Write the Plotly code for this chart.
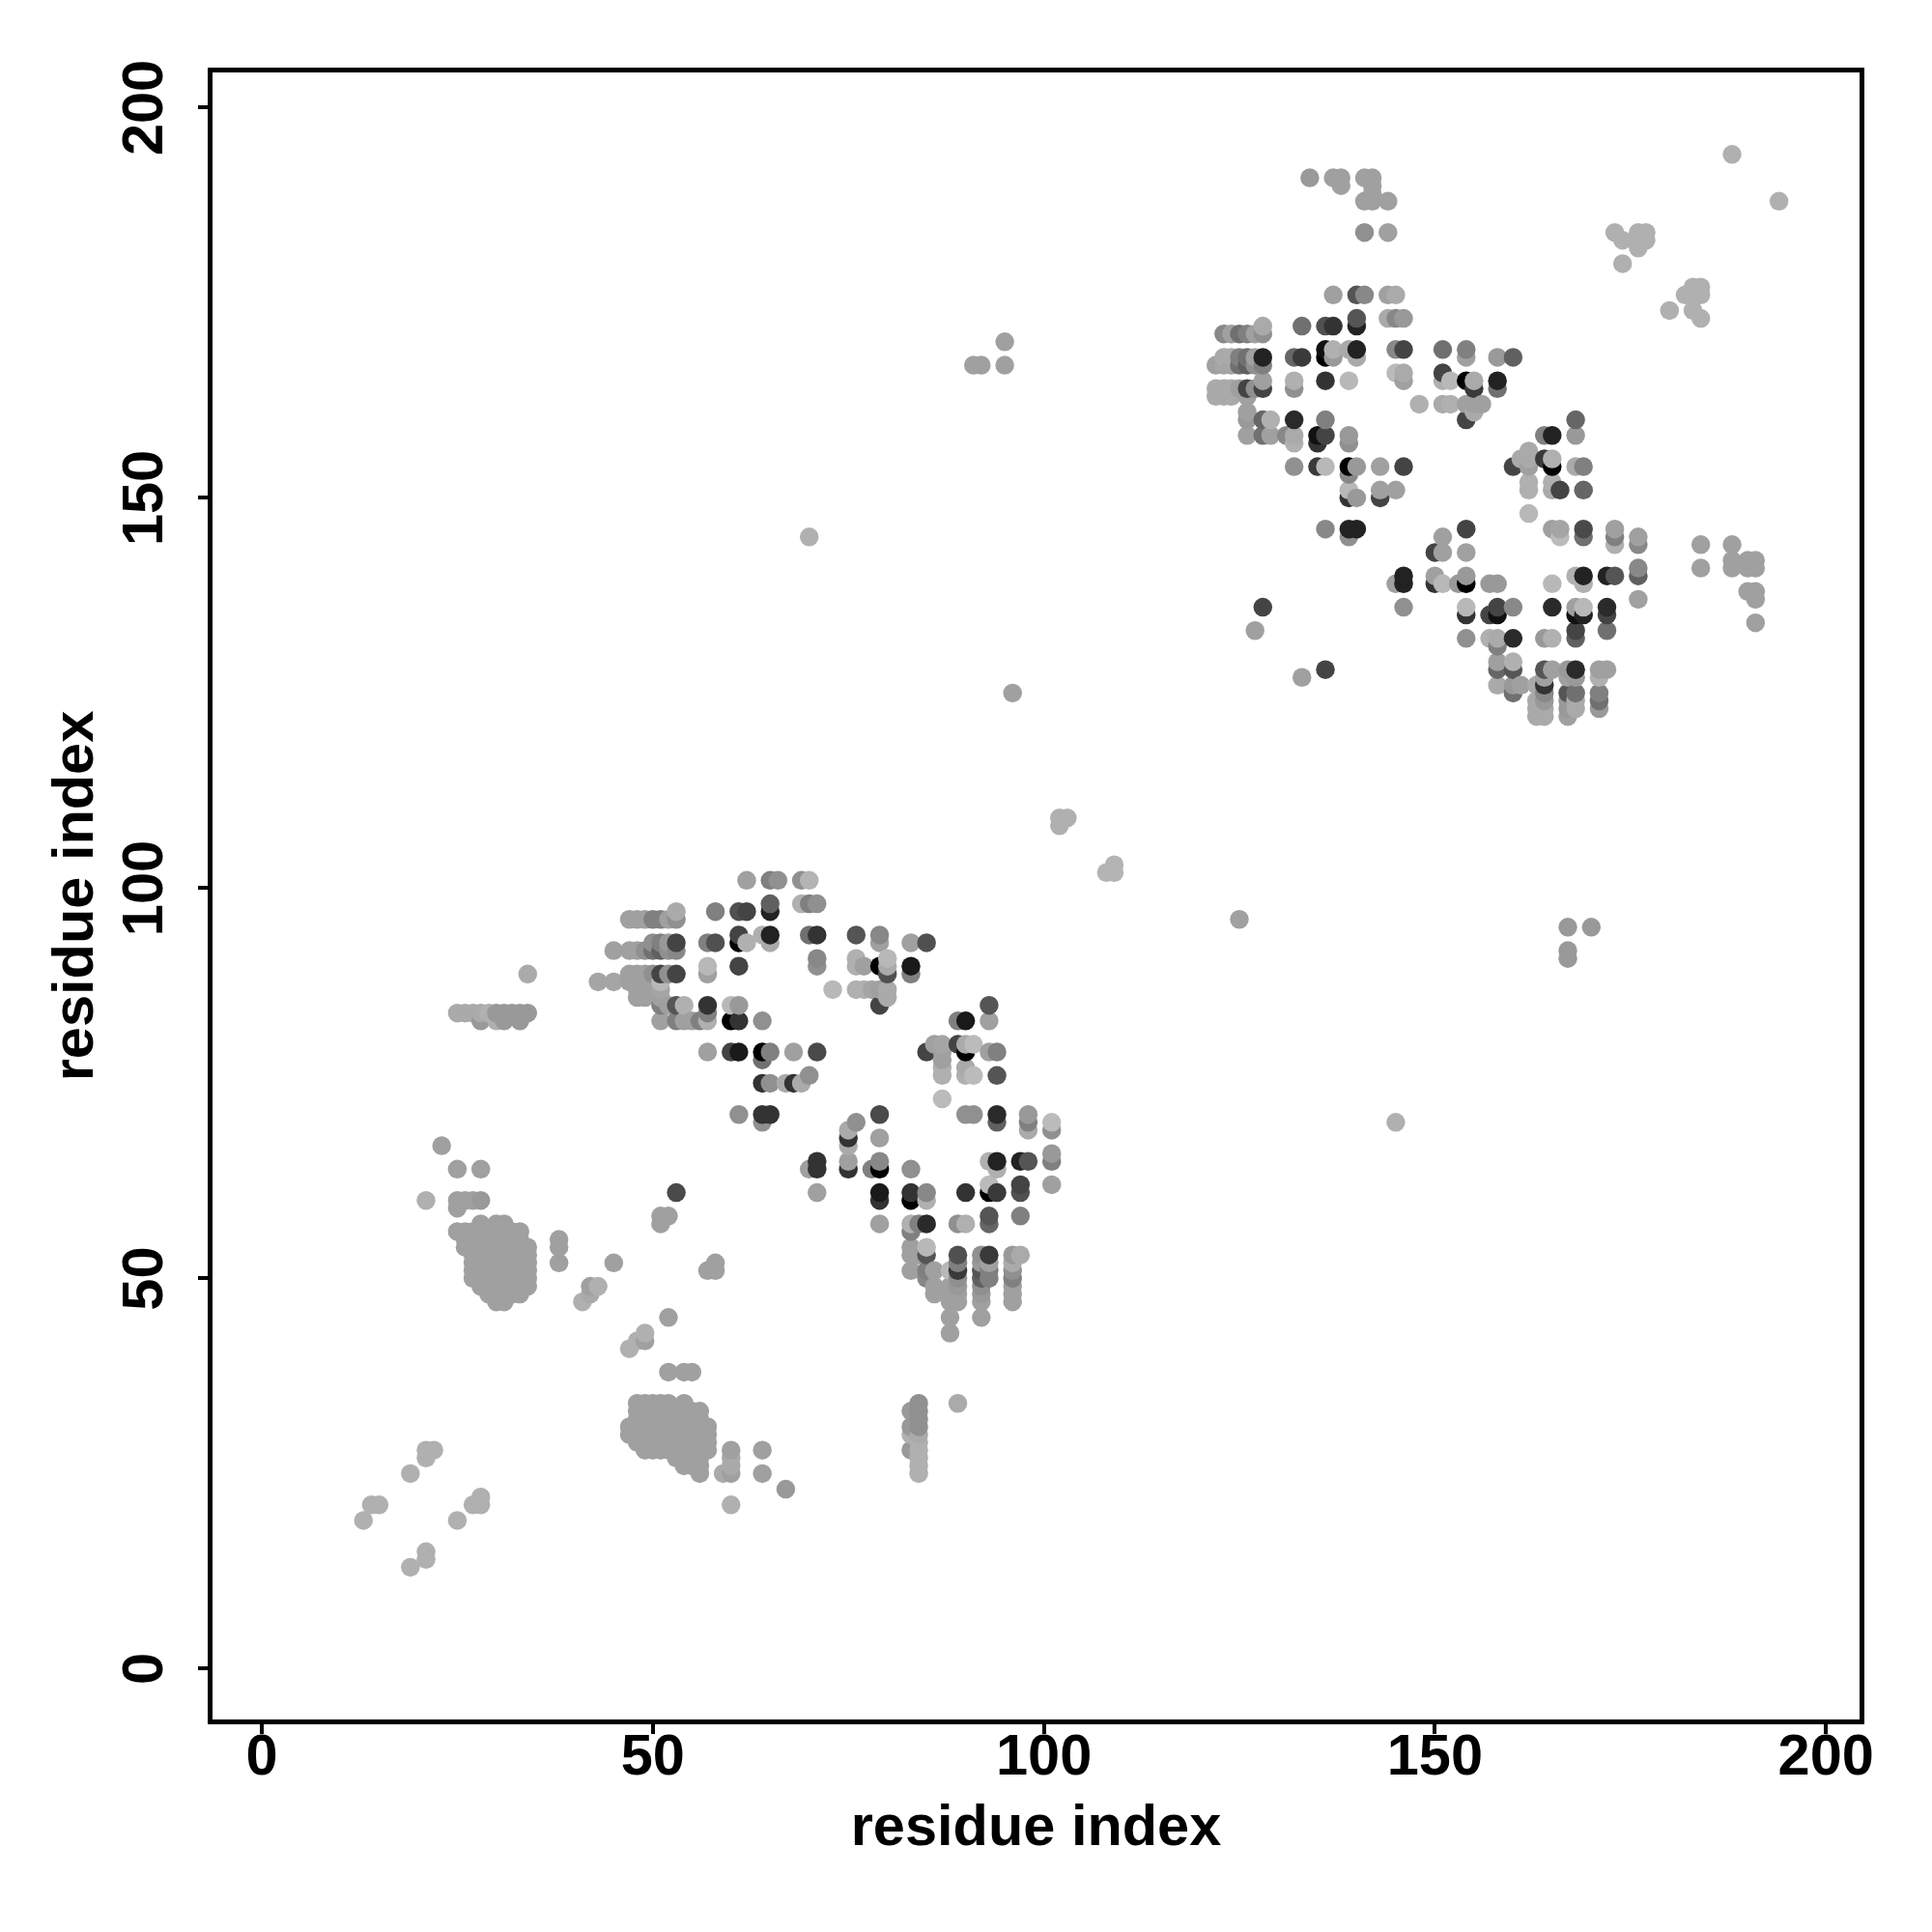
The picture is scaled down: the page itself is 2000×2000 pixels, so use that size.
import numpy as np
import plotly.graph_objects as go

row_y = [194, 191, 190, 189, 188, 184, 183, 182, 180, 177, 176, 174, 173, 172, 171, 170, 169, 168, 167, 166,
         165, 164, 163, 162, 161, 160, 158, 157, 156, 155, 154, 153, 152, 151, 150, 148, 146, 145, 144, 143,
         142, 141, 140, 139, 138, 137, 136, 135, 134, 133, 132, 131, 129, 128, 127, 126, 125, 124, 123, 122,
         109, 108, 103, 102, 101, 98, 97, 96, 95, 94, 93, 92, 91, 90, 89, 88, 87, 86, 85, 84, 83,
         80, 79, 78, 77, 76, 75, 73, 71, 70, 69, 68, 67, 66, 65, 64, 62, 61, 60, 59, 58, 57,
         56, 55, 54, 53, 52, 51, 50, 49, 48, 47, 45, 43, 42, 41, 38,
         34, 33, 32, 31, 30, 29, 28, 27, 26, 25, 23, 22, 21, 19, 15, 14, 13]

row_x = [
    [188],
    [134, 137, 138, 141, 142],
    [138, 142],
    [142],
    [141, 142, 144, 194],
    [141, 144, 173, 176, 177],
    [174, 176, 177],
    [176],
    [174],
    [183, 184],
    [137, 140, 141, 144, 145, 182, 183, 184],
    [180, 183],
    [140, 144, 145, 146, 184],
    [128, 133, 136, 137, 140],
    [123, 124, 125, 126, 127, 128],
    [95],
    [136, 137, 139, 140, 145, 146, 151, 154],
    [123, 124, 125, 126, 127, 128, 132, 133, 136, 137, 140, 154, 158, 160],
    [91, 92, 95, 122, 123, 124, 125, 126, 127, 128],
    [145, 146, 151],
    [128, 132, 136, 139, 146, 151, 152, 154, 155, 158],
    [122, 123, 124, 125, 126, 127, 128, 132, 155, 158],
    [122, 123, 124, 126],
    [148, 151, 152, 154, 155, 156],
    [126, 155],
    [126, 128, 129, 132, 136, 154, 168],
    [126, 128, 129, 131, 132, 135, 136, 139, 164, 165, 168],
    [132, 135, 139],
    [162],
    [161, 162, 164, 165],
    [132, 135, 136, 139, 140, 143, 146, 160, 162, 165, 168, 169],
    [139],
    [162, 165],
    [139, 143, 145, 162, 165, 166, 169],
    [139, 140, 143],
    [162],
    [136, 139, 140, 154, 165, 166, 169, 173],
    [70, 139, 151, 166, 169, 173, 176],
    [173, 176, 184, 188],
    [150, 151, 154],
    [188, 190, 191],
    [176, 184, 188, 190, 191],
    [146, 150, 154, 168, 169, 172, 173, 176],
    [145, 146, 150, 151, 153, 154, 157, 158, 165, 169],
    [190, 191],
    [176, 191],
    [128, 146, 154, 158, 160, 165, 168, 169, 172],
    [154, 157, 158, 168, 169, 172],
    [191],
    [127, 168, 172],
    [154, 157, 158, 160, 164, 165, 168],
    [158],
    [158, 160],
    [136, 158, 160, 164, 165, 167, 168, 171, 172],
    [133, 164, 167, 168, 171],
    [158, 160, 161, 163, 164],
    [96, 160, 164, 167, 168, 171],
    [163, 164, 167, 168, 171],
    [163, 164, 167, 168, 171],
    [163, 164, 167],
    [102, 103],
    [102],
    [109],
    [108, 109],
    [62, 65, 66, 69, 70],
    [65, 69, 70, 71],
    [53, 58, 61, 62, 65],
    [47, 48, 49, 50, 51, 52, 53, 125],
    [167, 170],
    [61, 64, 65, 70, 71, 76, 79],
    [50, 51, 52, 53, 57, 58, 61, 62, 65, 79, 83, 85],
    [45, 47, 48, 49, 50, 51, 52, 53, 167],
    [71, 76, 80, 167],
    [57, 61, 71, 76, 77, 79, 80, 83],
    [34, 47, 48, 49, 50, 51, 52, 53, 57, 80, 83],
    [43, 45, 47, 48, 49, 51],
    [48, 49, 51, 73, 76, 77, 78, 79, 80],
    [48, 49, 51, 80],
    [51, 52, 53, 54, 57, 60, 61, 79, 93],
    [25, 26, 27, 28, 29, 30, 31, 32, 33, 34, 57],
    [28, 30, 31, 33, 51, 53, 54, 55, 56, 57, 60, 61, 64, 89, 90, 93],
    [86, 87, 89, 90, 91],
    [57, 60, 61, 64, 65, 68, 71, 85, 87, 90, 93, 94],
    [64, 87],
    [87, 90],
    [70, 87, 90, 91, 94],
    [64, 65, 67, 68, 69],
    [87],
    [61, 64, 65, 79, 90, 91, 94, 98],
    [64, 76, 94, 98, 101, 145],
    [75, 98, 101],
    [75, 79],
    [23, 75],
    [101],
    [71, 75, 79, 93, 94, 97, 98, 101],
    [25, 28, 70, 71, 75, 78, 79, 83, 94],
    [93, 97, 101],
    [53, 71, 79, 83, 85, 90, 93, 94, 97],
    [21, 25, 26, 27, 28, 79, 83, 85],
    [25],
    [51, 52, 93, 97],
    [28, 30, 31, 51, 79, 83, 84, 85, 89, 90, 93],
    [25, 26, 27, 28, 29, 30, 31, 32, 33, 83],
    [26, 27, 28, 29, 30, 31, 32, 33, 38],
    [26, 27, 28, 29, 30, 31, 32, 33, 34, 38, 83, 85],
    [27, 28, 29, 30, 31, 32, 33, 34, 83, 84, 85, 89, 92, 93, 96, 97],
    [27, 28, 29, 30, 31, 32, 33, 34, 38, 45, 58, 89, 92, 93, 96],
    [27, 28, 29, 30, 31, 32, 33, 34, 57, 58, 83, 85, 86, 88, 89, 92, 93, 96],
    [27, 28, 29, 30, 31, 32, 33, 34, 85, 89, 92, 93, 96],
    [28, 29, 30, 31, 32, 33, 34, 42, 43, 86, 88, 89, 92, 96],
    [29, 30, 31, 32, 33, 42, 86, 88, 89, 92, 96],
    [30, 31, 41, 88, 89, 92, 96],
    [52, 88, 92],
    [49, 88],
    [48, 49],
    [47],
    [52, 54, 55],
    [48, 49, 50, 51, 52, 54, 84, 89],
    [48, 49, 50, 51, 52, 53, 54, 55, 56, 83, 84],
    [48, 49, 50, 51, 52, 53, 54, 55, 56, 84],
    [47, 48, 49, 50, 51, 52, 53, 54, 55, 56, 57, 83, 84],
    [47, 48, 49, 50, 51, 52, 53, 54, 55, 56, 57, 83, 84],
    [48, 49, 50, 51, 52, 53, 54, 55, 56, 57, 84],
    [21, 22, 49, 50, 51, 52, 53, 54, 55, 56, 57, 60, 64, 83, 84],
    [21, 53, 54, 55, 56, 60, 84],
    [54, 55, 56, 60, 84],
    [19, 56, 59, 60, 64, 84],
    [67],
    [28],
    [14, 15, 27, 28, 60],
    [13, 25],
    [21],
    [21],
    [19],
]

row_gray = [
    [176],
    [153, 160, 160, 160, 160],
    [160, 160],
    [160],
    [160, 160, 160, 176],
    [144, 160, 176, 176, 176],
    [176, 176, 176],
    [176],
    [176],
    [176, 176],
    [160, 85, 136, 160, 170, 176, 176, 176],
    [176, 176],
    [85, 170, 136, 153, 176],
    [170, 112, 80, 51, 34],
    [136, 160, 112, 128, 160, 144],
    [160],
    [17, 176, 170, 34, 136, 68, 112, 128],
    [170, 170, 128, 112, 160, 34, 102, 58, 0, 153, 170, 160, 153, 96],
    [160, 160, 160, 160, 165, 165, 112, 96, 144, 128],
    [187, 170, 68],
    [160, 176, 51, 184, 160, 176, 184, 0, 170, 34],
    [170, 170, 170, 160, 68, 144, 68, 144, 58, 112],
    [170, 170, 170, 160],
    [176, 170, 176, 160, 160, 160],
    [160, 170],
    [153, 102, 176, 42, 128, 68, 102],
    [160, 112, 160, 136, 170, 17, 68, 153, 128, 34, 153],
    [176, 51, 144],
    [170],
    [170, 170, 58, 176],
    [144, 58, 184, 0, 153, 160, 68, 68, 160, 0, 170, 128],
    [136],
    [176, 176],
    [184, 160, 160, 176, 170, 68, 102],
    [51, 153, 68],
    [184],
    [136, 34, 34, 68, 160, 165, 74, 160],
    [176, 144, 160, 187, 112, 128, 160],
    [176, 136, 160, 160],
    [68, 160, 160],
    [160, 160, 160],
    [136, 160, 160, 160, 160],
    [34, 160, 153, 176, 34, 34, 85, 96],
    [160, 34, 51, 184, 153, 0, 153, 153, 184, 176],
    [160, 160],
    [160, 160],
    [68, 144, 184, 68, 136, 42, 160, 184, 42],
    [51, 68, 17, 17, 34, 68],
    [160],
    [160, 68, 112],
    [144, 176, 170, 42, 153, 176, 96],
    [128],
    [160, 176],
    [68, 102, 85, 85, 160, 153, 42, 160, 160],
    [160, 160, 160, 153, 176],
    [170, 153, 160, 170, 51],
    [160, 112, 136, 85, 112, 128],
    [170, 153, 153, 170, 112],
    [170, 170, 153, 170, 153],
    [170, 170, 160],
    [176, 176],
    [176],
    [180],
    [180, 180],
    [160, 128, 144, 144, 180],
    [96, 176, 128, 144],
    [170, 128, 80, 68, 34],
    [160, 160, 160, 128, 128, 160, 144, 160],
    [153, 153],
    [68, 176, 34, 112, 51, 85, 136],
    [144, 128, 153, 68, 128, 80, 0, 176, 170, 160, 160, 80],
    [160, 160, 160, 144, 112, 96, 144, 136, 153],
    [136, 176, 184, 153],
    [184, 68, 144, 176, 160, 0, 170, 26],
    [170, 160, 160, 160, 144, 68, 144, 68, 160, 80, 128],
    [165, 165, 160, 160, 160, 184],
    [160, 160, 165, 184, 176, 176, 165, 160, 170],
    [160, 160, 160, 170],
    [128, 160, 85, 176, 51, 184, 153, 68, 85],
    [170, 170, 170, 170, 176, 153, 153, 153, 153, 153, 128],
    [153, 176, 153, 153, 160, 128, 160, 160, 128, 176, 0, 51, 144, 128, 26, 160],
    [160, 165, 68, 170, 187],
    [160, 68, 26, 0, 128, 160, 74, 68, 160, 0, 160, 128],
    [112, 160],
    [176, 170],
    [144, 176, 176, 187, 85],
    [51, 144, 170, 51, 170],
    [187],
    [144, 51, 51, 74, 144, 144, 42, 153],
    [144, 144, 96, 128, 187, 176],
    [170, 170, 144],
    [51, 160],
    [160, 170],
    [153],
    [51, 160, 136, 176, 34, 34, 85, 128],
    [160, 160, 160, 51, 51, 128, 0, 144, 176],
    [187, 68, 160],
    [74, 160, 26, 51, 136, 51, 0, 58, 80],
    [176, 160, 160, 160, 153, 51, 0, 176],
    [160],
    [160, 160, 85, 128],
    [160, 160, 160, 160, 160, 176, 128, 42, 144, 176, 102],
    [160, 160, 160, 160, 160, 160, 160, 160, 160, 128],
    [160, 160, 160, 160, 160, 160, 160, 160, 160],
    [160, 160, 160, 160, 160, 160, 160, 160, 160, 160, 160, 184],
    [160, 160, 160, 160, 160, 160, 160, 160, 160, 160, 85, 80, 144, 58, 153, 170],
    [160, 160, 160, 160, 160, 160, 160, 160, 160, 160, 160, 128, 153, 160, 170],
    [160, 160, 160, 160, 160, 160, 160, 160, 160, 160, 160, 128, 160, 184, 58, 85, 128, 144],
    [160, 160, 160, 160, 160, 160, 160, 160, 136, 144, 96, 128, 128],
    [160, 160, 160, 160, 160, 160, 160, 160, 176, 160, 160, 153, 144, 160],
    [160, 160, 160, 160, 160, 170, 160, 160, 160, 153, 160],
    [160, 160, 176, 160, 160, 160, 160],
    [160, 160, 160],
    [176, 160],
    [176, 160],
    [176],
    [160, 160, 160],
    [160, 160, 160, 160, 160, 160, 144, 170],
    [160, 160, 160, 160, 160, 160, 160, 160, 160, 153, 144],
    [160, 160, 160, 160, 160, 160, 160, 160, 160, 144],
    [160, 160, 160, 160, 160, 160, 160, 160, 160, 160, 160, 153, 144],
    [160, 160, 160, 160, 160, 160, 160, 160, 160, 160, 160, 176, 170],
    [160, 160, 160, 160, 160, 160, 160, 160, 160, 160, 176],
    [176, 176, 160, 160, 160, 160, 160, 160, 160, 160, 160, 160, 160, 153, 176],
    [176, 160, 160, 160, 160, 170, 176],
    [160, 160, 160, 170, 176],
    [176, 160, 170, 160, 160, 176],
    [153],
    [176],
    [176, 176, 176, 176, 176],
    [176, 176],
    [176],
    [176],
    [176],
]

tick_vals = [0, 50, 100, 150, 200]
tick_text = ["0", "50", "100", "150", "200"]
axis_title = "residue index"
x_range = [-6.3, 204.3]
y_range = [-6.5, 204.5]

xs, ys, gs = [], [], []
for y, xrow, grow in zip(row_y, row_x, row_gray, strict=True):
    for x, g in zip(xrow, grow, strict=True):
        xs.append(x)
        ys.append(y)
        gs.append(g)
xs, ys, gs = np.array(xs), np.array(ys), np.array(gs)
order = np.lexsort((ys, xs))   # painted column by column, upward

fig = go.Figure(go.Scatter(
    x=xs[order], y=ys[order], mode="markers",
    marker=dict(size=19.5, color=[f"rgb({g},{g},{g})" for g in gs[order]], line=dict(width=0)),
    hoverinfo="skip",
))

font = dict(family="Liberation Sans", size=59.5, color="black", weight="bold")
axis = dict(
    tickmode="array", tickvals=tick_vals, ticktext=tick_text,
    showgrid=False, zeroline=False, showline=True, mirror=True,
    linecolor="black", linewidth=5, ticks="outside", ticklen=10, tickwidth=3.5,
    tickcolor="black", tickfont=font,
)
fig.update_layout(
    width=2000, height=2000, showlegend=False,
    paper_bgcolor="white", plot_bgcolor="white",
    margin=dict(l=212, r=83, t=67, b=228, autoexpand=False),
    xaxis=dict(axis, range=x_range, ticklabelstandoff=-29,
               title=dict(text=axis_title, font=font, standoff=20)),
    yaxis=dict(axis, range=y_range, tickangle=-90, ticklabelstandoff=13, ticklabelshift=9,
               title=dict(text=axis_title, font=font, standoff=0)),
)
fig.write_html("out.html")
